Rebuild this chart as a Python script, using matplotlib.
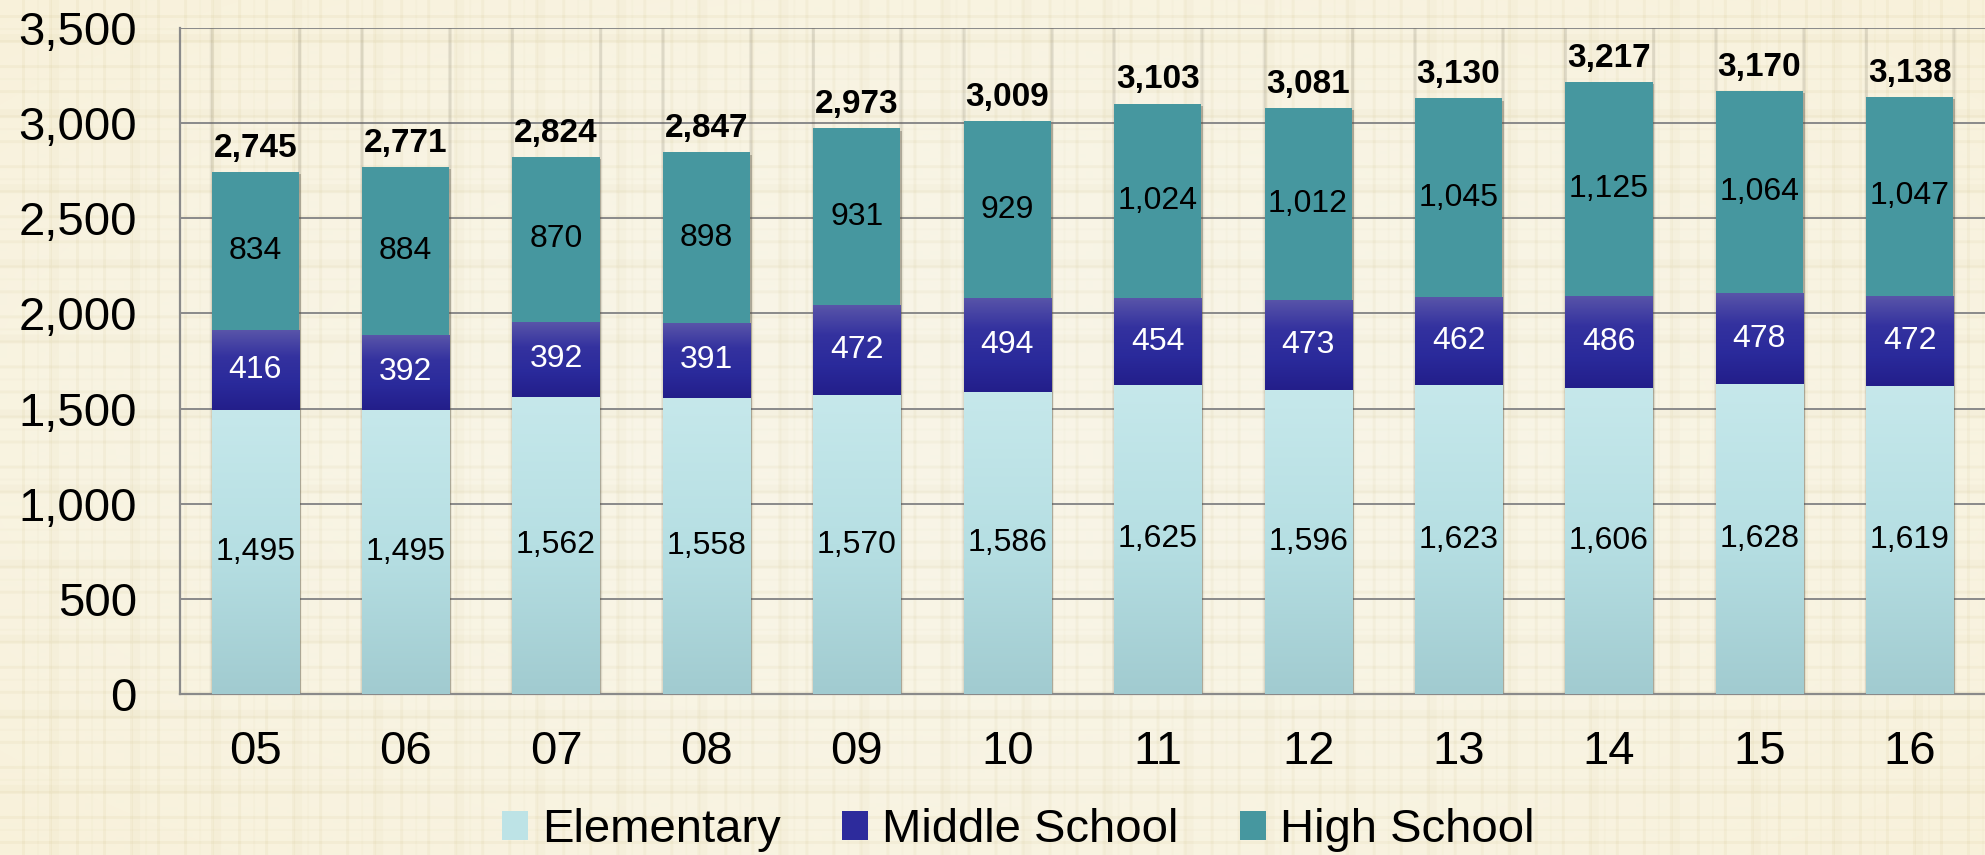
import numpy as np
import matplotlib
matplotlib.use("Agg")
import matplotlib.pyplot as plt
from matplotlib.patches import Rectangle, Patch
from matplotlib.colors import LinearSegmentedColormap

# ---------------- data ----------------
years = ["05", "06", "07", "08", "09", "10", "11", "12", "13", "14", "15", "16"]
elementary = [1495, 1495, 1562, 1558, 1570, 1586, 1625, 1596, 1623, 1606, 1628, 1619]
middle = [416, 392, 392, 391, 472, 494, 454, 473, 462, 486, 478, 472]
high = [834, 884, 870, 898, 931, 929, 1024, 1012, 1045, 1125, 1064, 1047]
totals = [2745, 2771, 2824, 2847, 2973, 3009, 3103, 3081, 3130, 3217, 3170, 3138]
series_names = ["Elementary", "Middle School", "High School"]
yticks = [0, 500, 1000, 1500, 2000, 2500, 3000, 3500]

plt.rcParams['font.family'] = ['Liberation Sans', 'DejaVu Sans']

W, H, DPI = 1985, 855, 100
fig = plt.figure(figsize=(W / DPI, H / DPI), dpi=DPI)

# ---------------- plaid background ----------------
bg_ax = fig.add_axes([0, 0, 1, 1], zorder=-10)
bg_ax.set_axis_off()
xs = np.arange(W)
ys = np.arange(H)

def stripes(n, period, width, phase, strength):
    v = ((n + phase) % period) < width
    return v.astype(float) * strength

vx = (stripes(xs, 27, 3, 5, 0.55) + stripes(xs, 81, 8, 30, 0.30)
      + stripes(xs, 54, 2, 17, 0.25))
vy = (stripes(ys, 25, 3, 9, 0.55) + stripes(ys, 75, 8, 40, 0.30)
      + stripes(ys, 50, 2, 21, 0.25))
pat = np.clip(vy[:, None] + vx[None, :], 0, 1.3)
base = np.array([248, 245, 231]) / 255.0
dark = np.array([226, 218, 186]) / 255.0
k = 0.40
img = base[None, None, :] * (1 - pat[..., None] * k) + dark[None, None, :] * (pat[..., None] * k)
gx = np.abs(xs - W / 2) / (W / 2)
gy = np.abs(ys - H / 2) / (H / 2)
vig = (gx[None, :] ** 2 + gy[:, None] ** 2) * 0.025
img = np.clip(img - vig[..., None] * np.array([0.0, 0.3, 1.0]), 0, 1)
bg_ax.imshow(img, extent=(0, 1, 0, 1), aspect='auto', interpolation='bilinear')
bg_ax.set_xlim(0, 1)
bg_ax.set_ylim(0, 1)

# ---------------- main axes ----------------
ax = fig.add_axes([180 / W, 1 - 694 / H, 1 - 180 / W, (694 - 28) / H])
ax.patch.set_alpha(0)
n = len(years)
x = np.arange(n)
bw = 0.58

ax.set_xlim(-0.5, n - 0.5)
ax.set_ylim(0, 3500)

for s in ["top", "right"]:
    ax.spines[s].set_visible(False)
for s in ["left", "bottom"]:
    ax.spines[s].set_color("#8a8a8a")
    ax.spines[s].set_linewidth(1.6)
ax.set_yticks(yticks)
ax.set_yticklabels([f"{v:,}" for v in yticks])
ax.set_xticks(x)
ax.set_xticklabels(years)
ax.tick_params(axis='y', length=0, pad=31, labelsize=34)
ax.tick_params(axis='x', length=0, pad=26, labelsize=34)
ax.yaxis.grid(True, color="#8a8a8a", linewidth=1.4)
ax.set_axisbelow(True)

# vertical soft shadows along bar edges (full plot height)
for xi in x:
    for ex in (xi - bw / 2, xi + bw / 2):
        for j, a in enumerate([0.10, 0.06, 0.03]):
            ax.plot([ex + (j * 0.004 if ex > xi else -j * 0.004)] * 2, [0, 3500],
                    color="#6b6450", alpha=a, linewidth=2.2, zorder=1.2)

def grad_cmap(colors):
    return LinearSegmentedColormap.from_list("g", colors)

elem_cmap = grad_cmap(["#a1cbd0", "#b6dfe3", "#c6e8eb"])
mid_cmap = grad_cmap(["#231e8a", "#2a2a9b", "#34329f", "#5955a9"])
grad = np.linspace(0, 1, 256)[:, None]

# bar drop shadows
for xi, t in zip(x, totals):
    sh = Rectangle((xi - bw / 2 + 0.012, -12), bw, t, facecolor="#555040",
                   alpha=0.35, edgecolor="none", zorder=2)
    ax.add_patch(sh)

bottoms_mid = elementary
bottoms_high = [e + m for e, m in zip(elementary, middle)]
for i, xi in enumerate(x):
    r = Rectangle((xi - bw / 2, 0), bw, elementary[i], facecolor="#b6dfe3",
                  edgecolor="none", zorder=3)
    ax.add_patch(r)
    im = ax.imshow(grad, cmap=elem_cmap, origin='lower', aspect='auto',
                   extent=(xi - bw / 2, xi + bw / 2, 0, elementary[i]), zorder=3.1)
    im.set_clip_path(r)
    r2 = Rectangle((xi - bw / 2, bottoms_mid[i]), bw, middle[i], facecolor="#2d2b9c",
                   edgecolor="none", zorder=3)
    ax.add_patch(r2)
    im2 = ax.imshow(grad, cmap=mid_cmap, origin='lower', aspect='auto',
                    extent=(xi - bw / 2, xi + bw / 2, bottoms_mid[i], bottoms_mid[i] + middle[i]),
                    zorder=3.1)
    im2.set_clip_path(r2)
    r3 = Rectangle((xi - bw / 2, bottoms_high[i]), bw, high[i], facecolor="#46979f",
                   edgecolor="none", zorder=3.2)
    ax.add_patch(r3)

    ax.text(xi, elementary[i] / 2, f"{elementary[i]:,}", ha='center', va='center',
            fontsize=23, color='black', zorder=5)
    ax.text(xi, bottoms_mid[i] + middle[i] / 2, f"{middle[i]:,}", ha='center', va='center',
            fontsize=23, color='white', zorder=5)
    ax.text(xi, bottoms_high[i] + high[i] / 2, f"{high[i]:,}", ha='center', va='center',
            fontsize=23, color='black', zorder=5)
    ax.annotate(f"{totals[i]:,}", (xi, totals[i]), xytext=(0, 17), textcoords='offset points',
                ha='center', va='center', fontsize=24, fontweight='bold', color='black', zorder=5)

ax.set_xlim(-0.5, n - 0.5)
ax.set_ylim(0, 3500)

handles = [Patch(facecolor="#bde3e6", edgecolor="none"),
           Patch(facecolor="#2d2b9c", edgecolor="none"),
           Patch(facecolor="#46979f", edgecolor="none")]
fig.legend(handles, series_names, loc='center', bbox_to_anchor=(1018 / W, 1 - 830 / H),
           ncol=3, frameon=False, fontsize=34, handlelength=0.55, handleheight=0.55,
           handletextpad=0.3, columnspacing=1.3, borderaxespad=0, borderpad=0)

fig.savefig("out.png", dpi=DPI)
